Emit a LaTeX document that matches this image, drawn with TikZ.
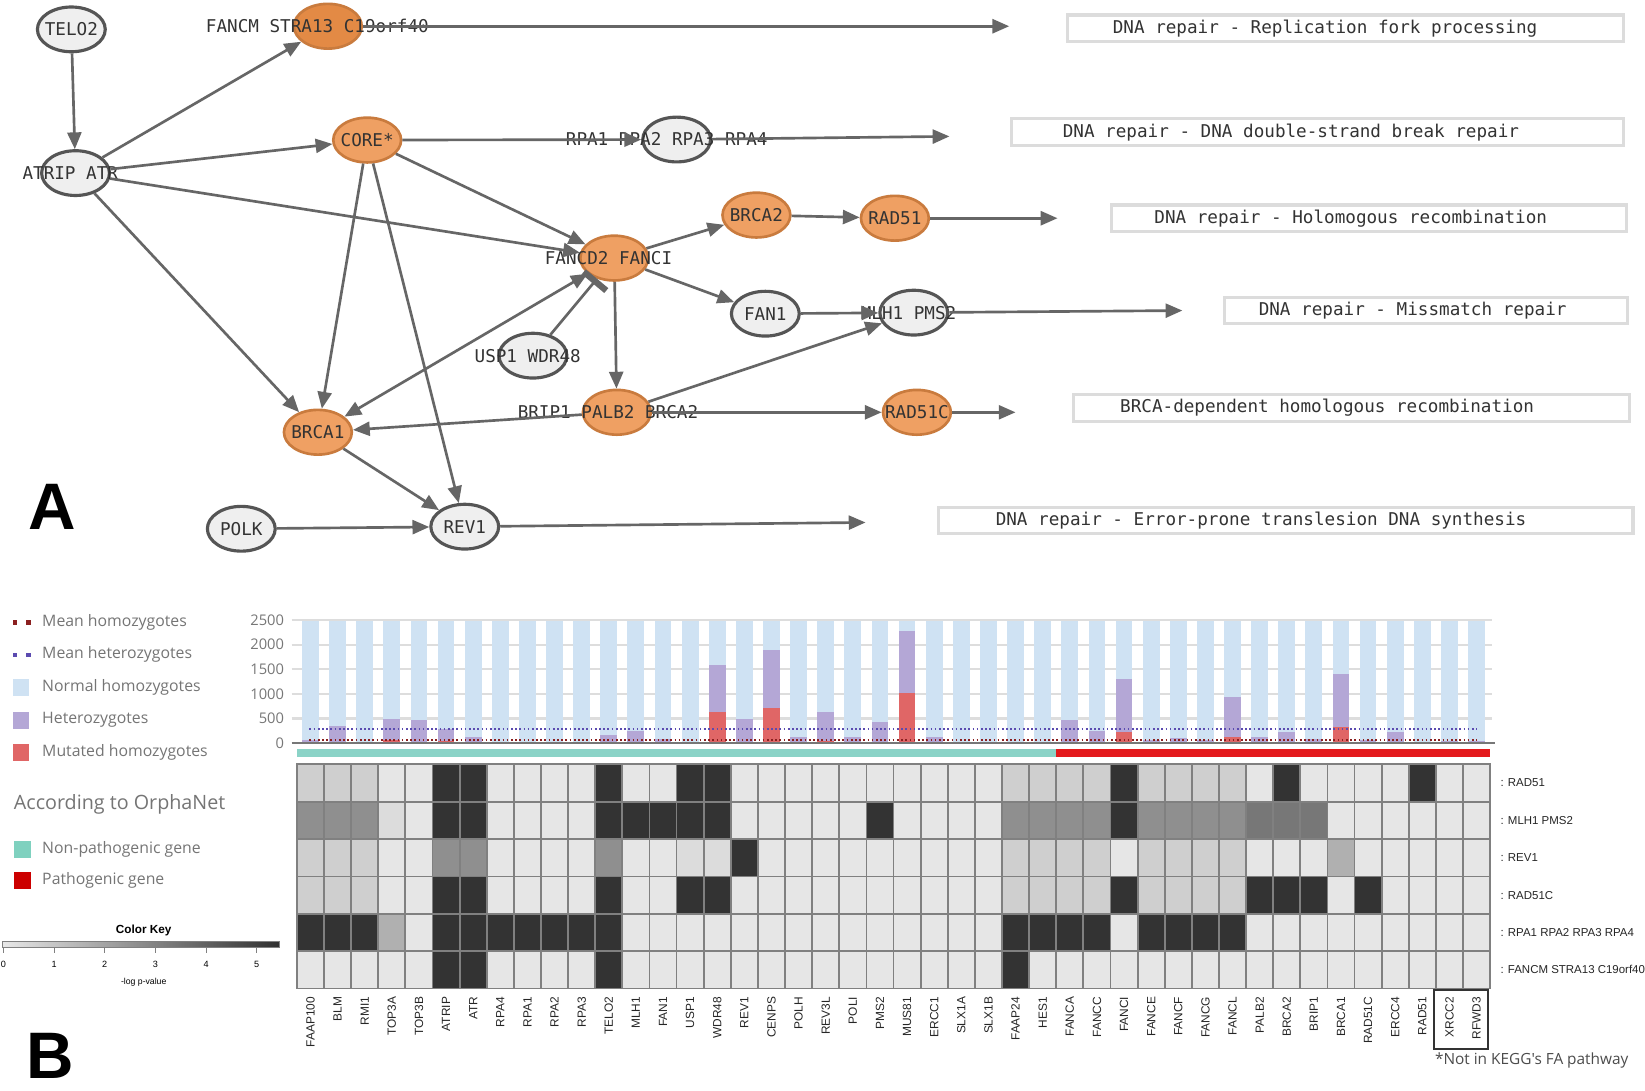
\documentclass[tikz,border=0pt]{standalone}
\usepackage{fontspec}
\setmainfont{Liberation Sans}
\newfontfamily\netmono{DejaVu Sans Mono}
\newfontfamily\osans{Open Sans}
\usetikzlibrary{shapes.geometric,arrows.meta}
\definecolor{edgegray}{HTML}{666666}
\definecolor{gfill}{HTML}{EFEFEF}
\definecolor{gdraw}{HTML}{555555}
\definecolor{ofill}{HTML}{EFA063}
\definecolor{ofilldark}{HTML}{E38A45}
\definecolor{odraw}{HTML}{C97B3E}
\definecolor{nettext}{HTML}{333333}
\definecolor{boxdraw}{HTML}{DCDCDC}
\definecolor{nhom}{HTML}{CFE2F3}
\definecolor{het}{HTML}{B4A7D6}
\definecolor{mhom}{HTML}{E06666}
\definecolor{gridc}{HTML}{DDDDDD}
\definecolor{axisc}{HTML}{777777}
\definecolor{legtext}{HTML}{757575}
\definecolor{meanhom}{HTML}{8B2020}
\definecolor{meanhet}{HTML}{5B4BB0}
\definecolor{tealleg}{HTML}{7FD1BF}
\definecolor{redleg}{HTML}{CC0000}
\definecolor{tealbar}{HTML}{8BD3C7}
\definecolor{redbar}{HTML}{E41A1C}
\definecolor{hmL}{HTML}{E6E6E6}
\definecolor{hmA}{HTML}{CFCFCF}
\definecolor{hmB}{HTML}{8F8F8F}
\definecolor{hmC}{HTML}{777777}
\definecolor{hmD}{HTML}{333333}
\definecolor{hmE}{HTML}{B0B0B0}
\definecolor{hmF}{HTML}{DCDCDC}
\definecolor{hmgrid}{HTML}{808080}
\definecolor{ckl}{HTML}{E8E8E8}
\definecolor{ckd}{HTML}{303030}
\newcommand\sh[2]{\makebox[0pt]{\hspace*{#1}#2}}
\tikzset{
  netnode/.style={ellipse, line width=2.25pt, minimum width=48.5pt, minimum height=32pt,
    inner sep=0pt, font=\netmono\fontsize{12.6pt}{14pt}\selectfont, text=nettext},
  gnode/.style={netnode, draw=gdraw, fill=gfill},
  onode/.style={netnode, draw=odraw, fill=ofill, line width=1.9pt},
  conn/.style={draw=edgegray, line width=1.9pt, -{Triangle[length=12pt,width=10pt]}},
  bothconn/.style={draw=edgegray, line width=1.9pt, {Triangle[length=12pt,width=10pt]}-{Triangle[length=12pt,width=10pt]}},
  inhib/.style={draw=edgegray, line width=1.9pt, -{Bar[width=21pt,line width=4.5pt]}},
  labbox/.style={rectangle, draw=boxdraw, line width=2.25pt, fill=white, inner sep=0pt,
    minimum height=19pt, font=\netmono\fontsize{12.6pt}{14pt}\selectfont, text=nettext},
  legtxt/.style={anchor=west, inner sep=0pt, font=\osans\fontsize{11.3pt}{13pt}\selectfont, text=legtext},
  axlab/.style={anchor=east, inner sep=0pt, font=\osans\fontsize{10.5pt}{12pt}\selectfont, text=axisc},
  genelab/.style={rotate=90, anchor=east, inner sep=0pt, font=\fontsize{8.5pt}{9pt}\selectfont, text=black!85},
  rowlab/.style={anchor=west, inner sep=0pt, font=\fontsize{8.2pt}{9pt}\selectfont, text=black!85},
  panel/.style={inner sep=0pt, font=\bfseries\fontsize{47pt}{50pt}\selectfont},
}
\begin{document}
\begin{tikzpicture}[x=0.75pt,y=-0.75pt]
\useasboundingbox (0,0) rectangle (1568,1039);
\fill[white] (0,0) rectangle (1568,1039);

% ---------------- Panel A: network ----------------
\node[gnode] (telo) at (68,28) {\sh{0pt}{TELO2}};
\node[gnode] (atr) at (72,165) {\sh{-7.5pt}{ATRIP ATR}};
\node[onode, fill=ofilldark] (fancm) at (312.5,25) {\sh{-15pt}{FANCM STRA13 C19orf40}};
\node[onode] (core) at (350,133.5) {\sh{0pt}{CORE*}};
\node[gnode] (rpa) at (645,133) {\sh{-14.25pt}{RPA1 RPA2 RPA3 RPA4}};
\node[onode] (fancd2) at (585.5,246) {\sh{-8.25pt}{FANCD2 FANCI}};
\node[onode] (brca2) at (721,205) {\sh{0pt}{BRCA2}};
\node[onode] (rad51) at (853,208) {\sh{0pt}{RAD51}};
\node[gnode] (fan1) at (729.5,299) {\sh{0pt}{FAN1}};
\node[gnode] (mlh1) at (871,298) {\sh{-7.5pt}{MLH1 PMS2}};
\node[gnode] (usp1) at (508,339) {\sh{-7.5pt}{USP1 WDR48}};
\node[onode] (palb2) at (588,393) {\sh{-12.75pt}{BRIP1 PALB2 BRCA2}};
\node[onode] (rad51c) at (874,393) {\sh{0pt}{RAD51C}};
\node[onode] (brca1) at (303,412) {\sh{0pt}{BRCA1}};
\node[gnode] (polk) at (230,504) {\sh{0pt}{POLK}};
\node[gnode] (rev1) at (443,502) {\sh{0pt}{REV1}};

\coordinate (e1) at (962,25);
\coordinate (e2) at (905,130);
\coordinate (e3) at (1008,208);
\coordinate (e4) at (1127,296);
\coordinate (e5) at (968,393);
\coordinate (e6) at (825,498);

\draw[conn] (telo) -- (atr);
\draw[conn] (atr) -- (fancm);
\draw[conn] (atr) -- (core);
\draw[conn] (atr) -- (fancd2);
\draw[conn] (atr) -- (brca1);
\draw[conn] (fancm) -- (e1);
\draw[conn] (core) -- (rpa);
\draw[conn] (rpa) -- (e2);
\draw[conn] (core) -- (fancd2);
\draw[conn] (core) -- (brca1);
\draw[conn] (core) -- (rev1);
\draw[conn] (fancd2) -- (brca2);
\draw[conn] (fancd2) -- (fan1);
\draw[conn] (fancd2) -- (palb2);
\draw[bothconn] (fancd2) -- (brca1);
\draw[inhib] (usp1) -- (fancd2);
\draw[conn] (brca2) -- (rad51);
\draw[conn] (rad51) -- (e3);
\draw[conn] (fan1) -- (mlh1);
\draw[conn] (palb2) -- (mlh1);
\draw[conn] (mlh1) -- (e4);
\draw[conn] (palb2) -- (brca1);
\draw[conn] (palb2) -- (rad51c);
\draw[conn] (rad51c) -- (e5);
\draw[conn] (brca1) -- (rev1);
\draw[conn] (polk) -- (rev1);
\draw[conn] (rev1) -- (e6);

\node[labbox, minimum width=397.5pt] (p1) at (1282.5,27) {\sh{-29.25pt}{DNA repair - Replication fork processing}};
\node[labbox, minimum width=437.25pt] (p2) at (1256,126) {\sh{-38.25pt}{DNA repair - DNA double-strand break repair}};
\node[labbox, minimum width=368.25pt] (p3) at (1305,208) {\sh{-26.25pt}{DNA repair - Holomogous recombination}};
\node[labbox, minimum width=288pt] (p4) at (1359.5,296) {\sh{-19.5pt}{DNA repair - Missmatch repair}};
\node[labbox, minimum width=397.5pt] (p5) at (1288.5,389) {\sh{-35.25pt}{BRCA-dependent homologous recombination}};
\node[labbox, minimum width=496.5pt] (p6) at (1225.5,496) {\sh{-35.25pt}{DNA repair - Error-prone translesion DNA synthesis}};

\node[panel] (letA) at (50,483) {A};
\node[panel] (letB) at (48,1006) {B};

% ---------------- Panel B: legend ----------------
\fill[meanhom] (12,591) rectangle (16.5,595.5);
\fill[meanhom] (25,591) rectangle (29.5,595.5);
\node[legtxt] (lg1) at (40,593) {Mean homozygotes};
\fill[meanhet] (12,622) rectangle (16.5,626.5);
\fill[meanhet] (25,622) rectangle (29.5,626.5);
\node[legtxt] (lg2) at (40,624) {Mean heterozygotes};
\fill[nhom] (12,647.5) rectangle (28,663.5);
\node[legtxt] (lg3) at (40,655.5) {Normal homozygotes};
\fill[het] (12,678.5) rectangle (28,694.5);
\node[legtxt] (lg4) at (40,686.5) {Heterozygotes};
\fill[mhom] (12,709) rectangle (28,725);
\node[legtxt] (lg5) at (40,717) {Mutated homozygotes};
\node[legtxt, font=\osans\fontsize{14.1pt}{16pt}\selectfont] (lg6) at (13,767) {According to OrphaNet};
\fill[tealleg] (13.5,801.5) rectangle (29.5,817.5);
\node[legtxt] (lg7) at (40,809.5) {Non-pathogenic gene};
\fill[redleg] (13.5,831) rectangle (29.5,847);
\node[legtxt] (lg8) at (40,839) {Pathogenic gene};

% colour key
\node[inner sep=0pt, font=\bfseries\fontsize{8.4pt}{10pt}\selectfont] (ckt) at (137,887) {Color Key};
\shade[left color=ckl, right color=ckd] (2,897) rectangle (266,903);
\draw[gray, line width=0.4pt] (2,897) rectangle (266,903);
\foreach \k in {0,...,5} {
  \draw[gray, line width=0.5pt] ({3.2+\k*48.3},903) -- ({3.2+\k*48.3},908);
  \node[inner sep=0pt, font=\fontsize{6.5pt}{7pt}\selectfont] (ck\k) at ({3.2+\k*48.3},919) {\k};
}
\node[inner sep=0pt, font=\fontsize{6.2pt}{7pt}\selectfont] (ckx) at (137,936) {-log p-value};

% ---------------- bar chart ----------------
\foreach \v in {500,1000,1500,2000,2500} {
  \draw[gridc, line width=1.6pt] (278,{708.3-\v*0.0469}) -- (1422,{708.3-\v*0.0469});
}
\foreach \v in {0,500,1000,1500,2000,2500} {
  \node[axlab] (yl\v) at (271,{708.3-\v*0.0469}) {\v};
}
\foreach \p/\r [count=\i from 0] in {55/0,350/0,8/0,490/55,460/0,290/34,123/0,5/0,20/0,5/0,5/0,171/0,255/0,82/0,8/0,1596/623,486/27,1900/719,123/0,623/48,116/0,420/0,2285/1014,116/0,5/0,5/0,27/0,5/0,460/27,253/0,1295/233,55/0,103/0,68/0,938/116,116/0,233/0,82/0,1404/330,55/0,233/0,10/0,34/0,48/0} {
  \pgfmathsetmacro\xa{287.9+\i*25.85}
  \pgfmathsetmacro\xb{\xa+16}
  \pgfmathsetmacro\yp{708.3-\p*0.0469}
  \pgfmathsetmacro\yr{708.3-\r*0.0469}
  \fill[nhom] (\xa,708.3) rectangle (\xb,592);
  \fill[het] (\xa,708.3) rectangle (\xb,\yp);
  \fill[mhom] (\xa,708.3) rectangle (\xb,\yr);
}
\draw[meanhet, line width=1pt, dash pattern=on 1.2pt off 1.8pt] (295,694.9) -- (1408,694.9);
\draw[meanhom, line width=1pt, dash pattern=on 1.2pt off 1.8pt] (295,705.2) -- (1408,705.2);
\draw[axisc, line width=1.2pt] (278,708.3) -- (1425,708.3);

% OrphaNet bar
\fill[tealbar] (283,714) rectangle (1006.8,722);
\fill[redbar] (1006.8,714) rectangle (1420,722);

% ---------------- heatmap ----------------
\foreach \row/\vals in {
 0/{A,A,A,L,L,D,D,L,L,L,L,D,L,L,D,D,L,L,L,L,L,L,L,L,L,L,A,A,A,A,D,A,A,A,A,L,D,L,L,L,L,D,L,L},
 1/{B,B,B,F,L,D,D,L,L,L,L,D,D,D,D,D,L,L,L,L,L,D,L,L,L,L,B,B,B,B,D,B,B,B,B,C,C,C,L,L,L,L,L,L},
 2/{A,A,A,L,L,B,B,L,L,L,L,B,L,L,F,F,D,L,L,L,L,L,L,L,L,L,A,A,A,A,L,A,A,A,A,L,L,L,E,L,L,L,L,L},
 3/{A,A,A,L,L,D,D,L,L,L,L,D,L,L,D,D,L,L,L,L,L,L,L,L,L,L,A,A,A,A,D,A,A,A,A,D,D,D,L,D,L,L,L,L},
 4/{D,D,D,E,L,D,D,D,D,D,D,D,L,L,L,L,L,L,L,L,L,L,L,L,L,L,D,D,D,D,L,D,D,D,D,L,L,L,L,L,L,L,L,L},
 5/{L,L,L,L,L,D,D,L,L,L,L,D,L,L,L,L,L,L,L,L,L,L,L,L,L,L,D,L,L,L,L,L,L,L,L,L,L,L,L,L,L,L,L,L}} {
  \foreach \c [count=\i from 0] in \vals {
    \pgfmathsetmacro\cx{283+\i*25.85}
    \pgfmathsetmacro\cy{728.6+\row*35.6}
    \filldraw[fill=hm\c, draw=hmgrid, line width=1.3pt] (\cx,\cy) rectangle ({\cx+25.85},{\cy+35.6});
  }
}
\node[rowlab] (r0) at (1430,746.4) {: RAD51};
\node[rowlab] (r1) at (1430,782) {: MLH1 PMS2};
\node[rowlab] (r2) at (1430,817.6) {: REV1};
\node[rowlab] (r3) at (1430,853.2) {: RAD51C};
\node[rowlab] (r4) at (1430,888.8) {: RPA1 RPA2 RPA3 RPA4};
\node[rowlab] (r5) at (1430,924.4) {: FANCM STRA13 C19orf40};

\foreach \g [count=\i from 0] in {FAAP100,BLM,RMI1,TOP3A,TOP3B,ATRIP,ATR,RPA4,RPA1,RPA2,RPA3,TELO2,MLH1,FAN1,USP1,WDR48,REV1,CENPS,POLH,REV3L,POLI,PMS2,MUS81,ERCC1,SLX1A,SLX1B,FAAP24,HES1,FANCA,FANCC,FANCI,FANCE,FANCF,FANCG,FANCL,PALB2,BRCA2,BRIP1,BRCA1,RAD51C,ERCC4,RAD51,XRCC2,RFWD3} {
  \node[genelab] (g\i) at ({283+(\i+0.5)*25.85},950) {\g};
}
\draw[black!80, line width=1.3pt] (1367,944) rectangle (1418.5,1000);
\node[inner sep=0pt, font=\osans\fontsize{11pt}{12pt}\selectfont, text=black!70] (note) at (1460,1011) {*Not in KEGG's FA pathway};
\end{tikzpicture}
\end{document}
